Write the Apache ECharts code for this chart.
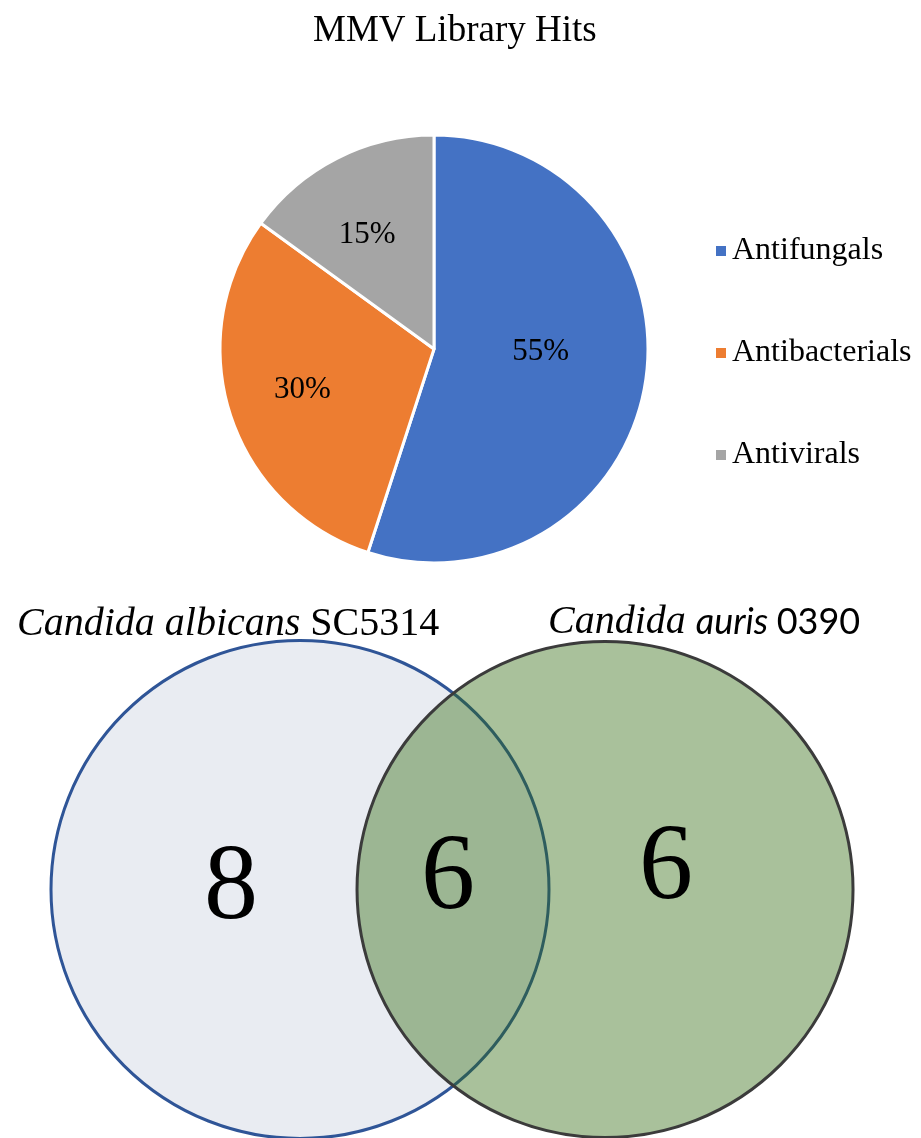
<!DOCTYPE html>
<html>
<head>
<meta charset="utf-8">
<title>MMV Library Hits</title>
<script src="https://cdn.jsdelivr.net/npm/echarts@6/dist/echarts.min.js"></script>
<style>
  html, body { margin: 0; padding: 0; background: #ffffff; }
  #chart { width: 921px; height: 1138px; }
</style>
</head>
<body>
<div id="chart"></div>
<script>
// Share of library hits by compound class
const hitClasses = ['Antifungals', 'Antibacterials', 'Antivirals'];
const hitShares = [55, 30, 15];

// Strains screened and the hit counts per Venn region
const vennSets = ['Candida albicans SC5314', 'Candida auris 0390'];
const vennRegions = ['albicans only', 'both', 'auris only'];
const vennCounts = [8, 6, 6];

// ---- layout and styling ----
const SERIF = 'Liberation Serif, Times New Roman, serif';
const SANS = 'Lato, Open Sans, sans-serif';
const pieColors = ['#4472C4', '#ED7D31', '#A5A5A5'];
// per-slice nudges for the percentage labels
const pieLabelNudge = [[-2, -14], [-27, 7], [-17, -16]];

// Venn geometry, in units of one circle radius
const PX_PER_UNIT = 249;
const vennCircles = [
  { cx: 0, cy: 0, r: 1, fill: '#E9ECF2', stroke: '#2F5597' },
  { cx: 1.225, cy: 0, r: 0.996, fill: 'rgba(45,104,11,0.41)', stroke: '#3B3B3B' }
];
const vennLabelSpots = [[-0.277, 0], [0.594, 0.038], [1.47, 0.078]];
const vennGrid = { left: 0, top: 580, width: 921, height: 558 };
const vennOriginPx = [300, 889.5 - 580];

const chart = echarts.init(document.getElementById('chart'), null, { renderer: 'canvas' });

const xMin = -vennOriginPx[0] / PX_PER_UNIT;
const xMax = (vennGrid.width - vennOriginPx[0]) / PX_PER_UNIT;
const yMax = vennOriginPx[1] / PX_PER_UNIT;
const yMin = -(vennGrid.height - vennOriginPx[1]) / PX_PER_UNIT;

const tok = (family, size, italic) => {
  const t = { fontFamily: family, fontSize: size, fontWeight: 'normal', lineHeight: 46, color: '#000' };
  if (italic) t.fontStyle = 'italic';
  return t;
};

chart.setOption({
  backgroundColor: '#ffffff',
  animation: false,
  title: [
    {
      text: 'MMV Library Hits',
      left: 308, top: 8,
      textStyle: { fontFamily: SERIF, fontSize: 37, fontWeight: 'normal', color: '#000000' }
    },
    {
      text: '{i|Candida albicans }SC5314',
      left: 12, top: 596,
      textStyle: {
        fontFamily: SERIF, fontSize: 40, fontWeight: 'normal', lineHeight: 46, color: '#000',
        rich: { i: tok(SERIF, 40, true) }
      }
    },
    {
      text: '{i|Candida }{s|auris }{n|0390}',
      left: 543, top: 594,
      textStyle: {
        fontWeight: 'normal',
        rich: { i: tok(SERIF, 40, true), s: tok(SANS, 36, true), n: tok(SANS, 36, false) }
      }
    }
  ],
  legend: {
    orient: 'vertical',
    left: 714, top: 233,
    padding: 0,
    icon: 'rect',
    itemWidth: 12, itemHeight: 12,
    itemGap: 66,
    itemTextGap: 10,
    data: hitClasses,
    textStyle: { fontFamily: SERIF, fontSize: 32, lineHeight: 36, color: '#000' }
  },
  grid: { left: vennGrid.left, top: vennGrid.top, width: vennGrid.width, height: vennGrid.height },
  xAxis: { type: 'value', min: xMin, max: xMax, show: false },
  yAxis: { type: 'value', min: yMin, max: yMax, show: false },
  series: [
    {
      type: 'pie',
      name: 'MMV Library Hits',
      center: [434, 349],
      radius: [0, 214],
      startAngle: 90,
      clockwise: true,
      color: pieColors,
      itemStyle: { borderColor: '#ffffff', borderWidth: 3 },
      label: {
        show: true,
        position: 'inside',
        formatter: '{c}%',
        fontFamily: SERIF,
        fontSize: 31,
        color: '#000'
      },
      labelLine: { show: false },
      emphasis: { disabled: true },
      labelLayout: function (p) {
        const n = pieLabelNudge[p.dataIndex];
        return { dx: n[0], dy: n[1] };
      },
      data: hitClasses.map((name, i) => ({ name, value: hitShares[i] }))
    },
    {
      type: 'custom',
      name: 'Venn circles',
      coordinateSystem: 'cartesian2d',
      silent: true,
      data: vennSets.map((name, i) => ({ name, value: [vennCircles[i].cx, vennCircles[i].cy, vennCircles[i].r] })),
      renderItem: function (params, api) {
        const c = api.coord([api.value(0), api.value(1)]);
        const r = api.size([api.value(2), 0])[0];
        const s = vennCircles[params.dataIndex];
        return {
          type: 'circle',
          shape: { cx: c[0], cy: c[1], r: r },
          style: { fill: s.fill, stroke: s.stroke, lineWidth: 3 }
        };
      }
    },
    {
      type: 'scatter',
      name: 'Hit counts',
      symbolSize: 0,
      silent: true,
      z: 5,
      itemStyle: { opacity: 1 },
      label: {
        show: true,
        position: 'inside',
        formatter: p => String(p.value[2]),
        fontFamily: SERIF,
        fontSize: 108,
        color: '#000'
      },
      data: vennRegions.map((name, i) => ({ name, value: [vennLabelSpots[i][0], vennLabelSpots[i][1], vennCounts[i]] }))
    }
  ]
});
</script>
</body>
</html>
